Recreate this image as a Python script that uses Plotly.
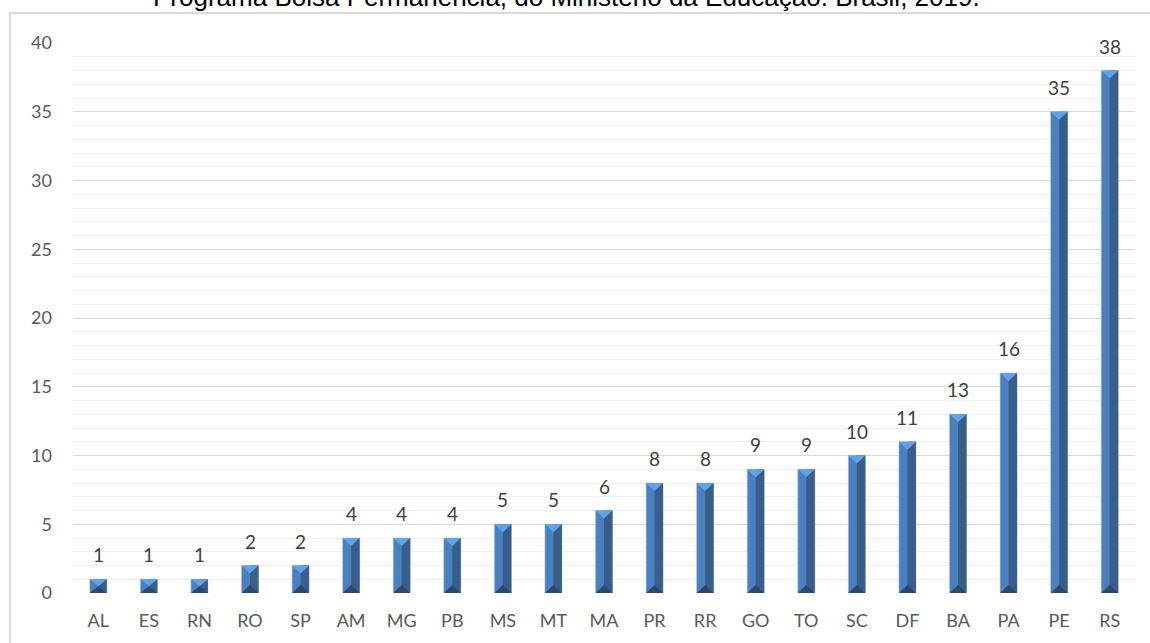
import plotly.graph_objects as go

# Estados e quantidade por estado
estados = ["AL", "ES", "RN", "RO", "SP", "AM", "MG", "PB", "MS", "MT", "MA",
           "PR", "RR", "GO", "TO", "SC", "DF", "BA", "PA", "PE", "RS"]
valores = [1, 1, 1, 2, 2, 4, 4, 4, 5, 5, 6, 8, 8, 9, 9, 10, 11, 13, 16, 35, 38]

titulo = "Programa Bolsa Permanência, do Ministério da Educação. Brasil, 2019."

W, H = 1150, 643
ML, MR, MT, MB = 73, 15, 43, 50
plot_w = W - ML - MR
plot_h = H - MT - MB
y_max = 40
px_per_unit = plot_h / y_max

bar_w = 0.335            # fraction of a category slot
bevel = 8 / px_per_unit  # bevel depth in data units

pos = list(range(len(estados)))

c_left = "#4a80bf"
c_right = "#385e8b"
c_top = "#62a3e8"
c_bottom = "#2b486d"

fig = go.Figure()

# left face (full bar)
fig.add_trace(go.Bar(x=pos, y=valores, width=bar_w, marker_color=c_left,
                     marker_line=dict(color="rgba(160,190,230,0.7)", width=0.8),
                     hoverinfo="skip"))
# right face (right half of bar)
fig.add_trace(go.Bar(x=pos, y=valores, width=bar_w / 2, offset=0,
                     marker_color=c_right, marker_line_width=0, hoverinfo="skip"))

# bevelled top and bottom triangles
tx, ty, bx, by = [], [], [], []
for i, v in zip(pos, valores):
    d = min(bevel, v / 2)
    tx += [i - bar_w / 2, i + bar_w / 2, i, None]
    ty += [v, v, v - d, None]
    bx += [i - bar_w / 2, i + bar_w / 2, i, None]
    by += [0, 0, d, None]

fig.add_trace(go.Scatter(x=tx, y=ty, mode="lines", fill="toself", fillcolor=c_top,
                         line=dict(width=0), hoverinfo="skip"))
fig.add_trace(go.Scatter(x=bx, y=by, mode="lines", fill="toself", fillcolor=c_bottom,
                         line=dict(width=0), hoverinfo="skip"))

# value labels
for i, v in zip(pos, valores):
    fig.add_annotation(x=i, y=v, text=str(v), showarrow=False, yanchor="bottom",
                       yshift=11, font=dict(family="Lato", size=19, color="#404040"))

# title (partly outside the top of the page)
fig.add_annotation(x=(566 - ML) / plot_w, y=1 + (MT - 14) / plot_h,
                   xref="paper", yref="paper", text=titulo, showarrow=False,
                   xanchor="center", yanchor="bottom",
                   font=dict(family="Liberation Sans", size=26, color="#000000"))

# chart border
fig.add_shape(type="rect", xref="paper", yref="paper",
              x0=(10 - ML) / plot_w, x1=1 + (MR + 20) / plot_w,
              y0=-(MB + 20) / plot_h, y1=1 + (MT - 13) / plot_h,
              line=dict(color="#d9d9d9", width=2), fillcolor="rgba(0,0,0,0)")

fig.update_layout(
    width=W, height=H,
    margin=dict(l=ML, r=MR, t=MT, b=MB),
    paper_bgcolor="white", plot_bgcolor="white",
    barmode="overlay", showlegend=False,
    font=dict(family="Lato", color="#595959", size=18),
)
fig.update_xaxes(range=[-0.5, len(estados) - 0.5], tickmode="array",
                 tickvals=pos, ticktext=estados, showgrid=False, zeroline=False,
                 showline=False, ticks="", ticklabelstandoff=15,
                 tickfont=dict(family="Lato", size=18, color="#595959"))
fig.update_yaxes(range=[0, y_max], dtick=5, showgrid=True, gridcolor="#d9d9d9",
                 gridwidth=1, zeroline=False, showline=False, ticks="",
                 ticklabelstandoff=20,
                 minor=dict(dtick=1, showgrid=True, gridcolor="#f0f0f0", gridwidth=1),
                 tickfont=dict(family="Lato", size=18, color="#595959"))

fig.write_html("out.html")
